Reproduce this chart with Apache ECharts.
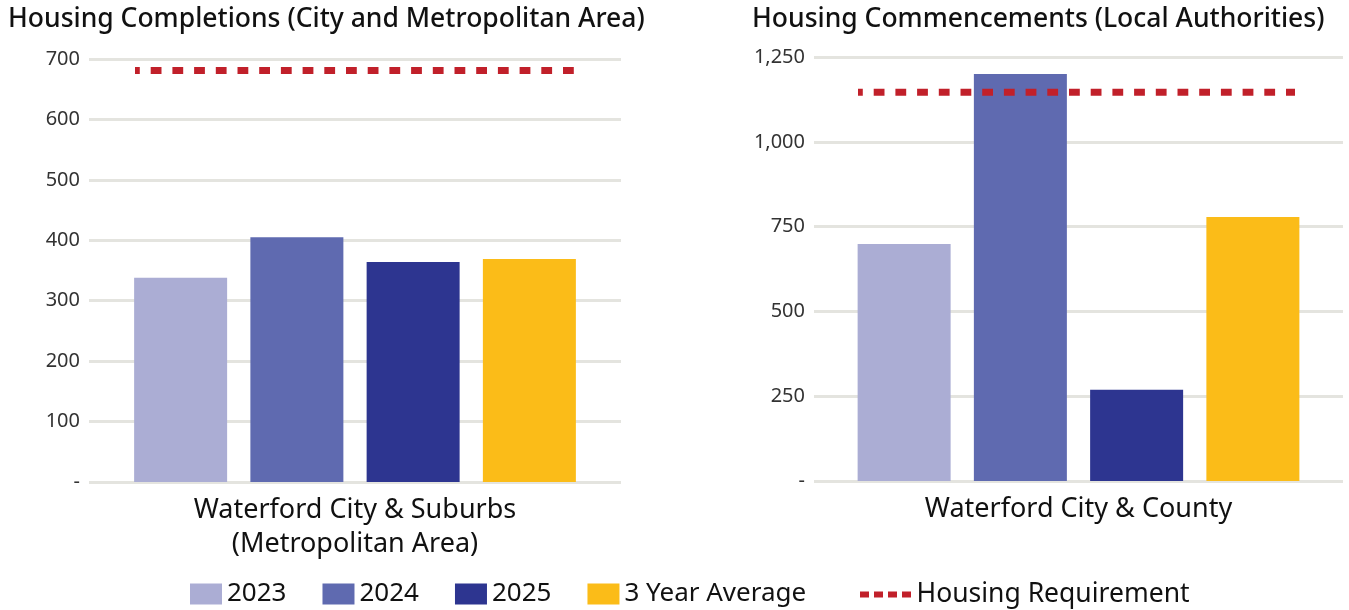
<!DOCTYPE html>
<html>
<head>
<meta charset="utf-8">
<script src="https://cdn.jsdelivr.net/npm/echarts@6/dist/echarts.min.js"></script>
<style>html,body{margin:0;padding:0;background:#fff}#c{width:1349px;height:610px}</style>
</head>
<body>
<div id="c"></div>
<script>
const seriesNames = ['2023', '2024', '2025', '3 Year Average'];
const reqName = 'Housing Requirement';
const leftTitle = 'Housing Completions (City and Metropolitan Area)';
const rightTitle = 'Housing Commencements (Local Authorities)';
const leftCategories = ['Waterford City & Suburbs\n(Metropolitan Area)'];
const rightCategories = ['Waterford City & County'];
const completions = [338, 405, 364, 369];
const commencements = [699, 1200, 269, 778];
const completionsReq = [681];
const commencementsReq = [1146];
const leftTicks = { min: 0, max: 700, interval: 100 };
const rightTicks = { min: 0, max: 1250, interval: 250 };

const colors = ['#abadd4', '#5f6ab0', '#2d3590', '#fbbc18'];
const reqColor = '#c1202a';
const FONT = 'Noto Sans';
const gridColor = '#e4e4df';

const fmt = v => v === 0 ? '-' : v.toLocaleString('en-US');

function yAxis(ticks, gi, show) {
  return {
    type: 'value', gridIndex: gi, min: ticks.min, max: ticks.max, interval: ticks.interval,
    show: show,
    axisLine: { show: false }, axisTick: { show: false },
    axisLabel: { formatter: fmt, color: '#333', fontFamily: FONT, fontSize: 20, margin: 9 },
    splitLine: { show: show, lineStyle: { color: gridColor, width: 3 } }
  };
}
function xCat(cats, gi) {
  return {
    type: 'category', gridIndex: gi, data: cats,
    axisLine: { show: false }, axisTick: { show: false },
    axisLabel: { color: '#111', fontFamily: FONT, fontSize: 27, margin: 11, lineHeight: 34 }
  };
}
function xLine(gi) {
  return { type: 'category', gridIndex: gi, data: ['a', 'b'], boundaryGap: false, show: false };
}

const series = [];
[completions, commencements].forEach((vals, idx) => {
  seriesNames.forEach((n, i) => {
    series.push({
      name: n, type: 'bar', xAxisIndex: idx, yAxisIndex: idx,
      data: [vals[i]], barWidth: 93, barGap: '25%',
      itemStyle: { color: colors[i] }
    });
  });
});
[completionsReq, commencementsReq].forEach((r, idx) => {
  series.push({
    name: reqName, type: 'line', xAxisIndex: idx + 2, yAxisIndex: idx + 2,
    data: [r[0], r[0]], symbol: 'none', z: 5,
    lineStyle: { color: reqColor, width: 7, type: [10.8, 10.9], dashOffset: 6 },
    itemStyle: { color: reqColor }
  });
});

const dashIcon = 'path://M0,0h9v6h-9zM14,0h9v6h-9zM28,0h9v6h-9zM42,0h9v6h-9z';

const chart = echarts.init(document.getElementById('c'));
chart.setOption({
  backgroundColor: '#fff',
  animation: false,
  title: [
    { text: leftTitle, left: 3, top: 1, textStyle: { fontFamily: FONT, fontSize: 26.5, fontWeight: 500, color: '#111' } },
    { text: rightTitle, left: 747, top: 1, textStyle: { fontFamily: FONT, fontSize: 26.5, fontWeight: 500, color: '#111' } }
  ],
  legend: [
    {
      data: seriesNames, left: 185, top: 576, itemWidth: 32, itemHeight: 21, itemGap: 36,
      icon: 'rect',
      textStyle: { fontFamily: FONT, fontSize: 26, color: '#111' }
    },
    {
      data: [{ name: reqName, icon: dashIcon }], left: 855, top: 576, itemWidth: 52, itemHeight: 6,
      itemStyle: { color: reqColor },
      textStyle: { fontFamily: FONT, fontSize: 26.5, color: '#111' }
    }
  ],
  grid: [
    { left: 89, width: 532, top: 59, height: 423 },
    { left: 814, width: 529, top: 57, height: 424 },
    { left: 135, width: 440, top: 59, height: 423 },
    { left: 858, width: 437, top: 57, height: 424 }
  ],
  xAxis: [xCat(leftCategories, 0), xCat(rightCategories, 1), xLine(2), xLine(3)],
  yAxis: [yAxis(leftTicks, 0, true), yAxis(rightTicks, 1, true), yAxis(leftTicks, 2, false), yAxis(rightTicks, 3, false)],
  series: series
});
</script>
</body>
</html>
